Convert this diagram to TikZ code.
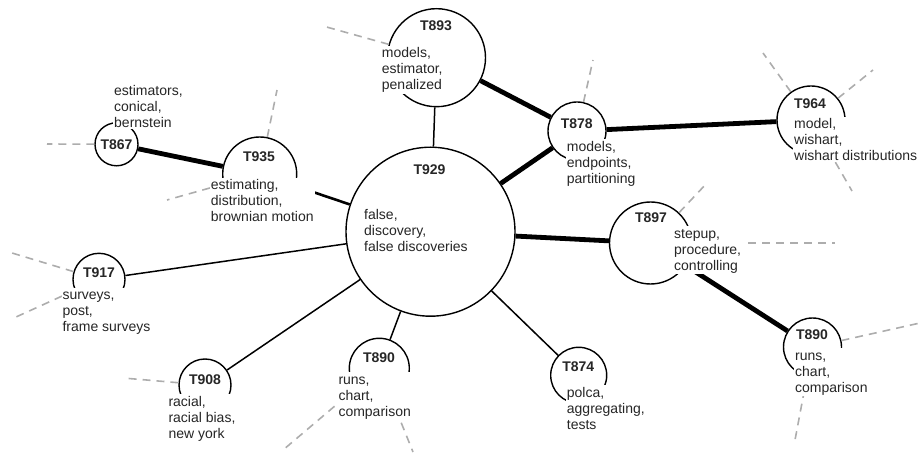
\documentclass[tikz,border=0pt]{standalone}
\usepackage{fontspec}
\setmainfont{Liberation Sans}
\begin{document}
\begin{tikzpicture}[x=1pt,y=-1pt,
  every node/.style={font=\fontsize{14}{16}\selectfont, text=black!85},
  topic/.style={circle, draw=black, line width=1.4pt, inner sep=0pt},
  ttl/.style={font=\fontsize{14}{16}\selectfont\bfseries, inner sep=0pt, anchor=base},
  words/.style={align=left, anchor=north west, fill=white, inner sep=1pt},
  thin edge/.style={draw=black, line width=1.5pt},
  mid edge/.style={draw=black, line width=2.6pt},
  thick edge/.style={draw=black, line width=4.8pt},
  dashline/.style={draw=black!32, line width=1.6pt, dash pattern=on 8pt off 6pt}
]
\useasboundingbox (0,0) rectangle (923,454);
\newcommand{\tp}{\rule{0pt}{11pt}}

% circles
\node[topic, minimum size=169pt] (t929) at (430.5,231.7) {};
\node[topic, minimum size=98pt]  (t893) at (436.5,57.7) {};
\node[topic, minimum size=58pt]  (t878) at (577,131) {};
\node[topic, minimum size=68pt]  (t964) at (811,120) {};
\node[topic, minimum size=74pt]  (t935) at (259.7,174) {};
\node[topic, minimum size=43pt]  (t867) at (116.5,144.3) {};
\node[topic, minimum size=82pt]  (t897) at (650.5,243) {};
\node[topic, minimum size=52pt]  (t917) at (99,279.3) {};
\node[topic, minimum size=52pt]  (t908) at (205,385) {};
\node[topic, minimum size=60pt]  (t890b) at (379.3,368.3) {};
\node[topic, minimum size=56pt]  (t874) at (578.7,375.3) {};
\node[topic, minimum size=58pt]  (t890r) at (812.5,347) {};

% free ends of dashed connectors
\coordinate (d867) at (47,144);
\coordinate (d935a) at (277,90);
\coordinate (d935b) at (167,200);
\coordinate (d893) at (323,26);
\coordinate (d878) at (593,60);
\coordinate (d964a) at (763,53);
\coordinate (d964b) at (873,70);
\coordinate (d964c) at (852,191);
\coordinate (d897a) at (707,183);
\coordinate (d897b) at (835,243);
\coordinate (d890ra) at (920,323);
\coordinate (d890rb) at (795,440);
\coordinate (d917a) at (12,253);
\coordinate (d917b) at (16,317);
\coordinate (d908) at (123,378);
\coordinate (d890ba) at (283,450);
\coordinate (d890bb) at (413,452);

% dashed connectors
\draw[dashline] (t867) -- (d867);
\draw[dashline] (t935) -- (d935a);
\draw[dashline] (t935) -- (d935b);
\draw[dashline] (t893) -- (d893);
\draw[dashline] (t878) -- (d878);
\draw[dashline] (t964) -- (d964a);
\draw[dashline] (t964) -- (d964b);
\draw[dashline] (t964) -- (d964c);
\draw[dashline] (t897) -- (d897a);
\draw[dashline] (t897) -- (d897b);
\draw[dashline] (t890r) -- (d890ra);
\draw[dashline] (t890r) -- (d890rb);
\draw[dashline] (t917) -- (d917a);
\draw[dashline] (t917) -- (d917b);
\draw[dashline] (t908) -- (d908);
\draw[dashline] (t890b) -- (d890ba);
\draw[dashline] (t890b) -- (d890bb);

% edges
\draw[thick edge] (t867) -- (t935);
\draw[thick edge] (t893) -- (t878);
\draw[thick edge] (t929) -- (t878);
\draw[thick edge] (t878) -- (t964);
\draw[thick edge] (t929) -- (t897);
\draw[thick edge] (t897) -- (t890r);
\draw[mid edge] (t935) -- (t929);
\draw[thin edge] (t929) -- (t893);
\draw[thin edge] (t929) -- (t917);
\draw[thin edge] (t929) -- (t908);
\draw[thin edge] (t929) -- (t890b);
\draw[thin edge] (t929) -- (t874);

% titles
\node[ttl] (t929t) at (429.5,175) {T929};
\node[ttl] (t893t) at (436,31) {T893};
\node[ttl] (t878t) at (576.7,129) {T878};
\node[ttl] (t964t) at (810,109) {T964};
\node[ttl] (t935t) at (259,161.7) {T935};
\node[ttl] (t867t) at (116.5,149.3) {T867};
\node[ttl] (t897t) at (651,223) {T897};
\node[ttl] (t917t) at (99,277.7) {T917};
\node[ttl] (t908t) at (205,384.3) {T908};
\node[ttl] (t890bt) at (379,362.3) {T890};
\node[ttl] (t874t) at (578.3,371.7) {T874};
\node[ttl] (t890rt) at (812,339.3) {T890};

% word lists
\node[words] (t929w) at (363,207.5) {\tp false,\\discovery,\\false discoveries};
\node[words] (t893w) at (380.7,45.8) {\tp models,\\estimator,\\penalized};
\node[words] (t878w) at (565.7,139.2) {\tp models,\\endpoints,\\partitioning};
\node[words] (t964w) at (793,116.5) {\tp model,\\wishart,\\wishart distributions};
\node[words] (t935w) at (209.7,177.5) {\tp estimating,\\distribution,\\brownian motion};
\node[words] (t867w) at (113,83.2) {\tp estimators,\\conical,\\bernstein};
\node[words] (t897w) at (673,226) {\tp stepup,\\procedure,\\controlling};
\node[words] (t917w) at (61.3,287.5) {\tp surveys,\\post,\\frame surveys};
\node[words] (t908w) at (167.3,394.2) {\tp racial,\\racial bias,\\new york};
\node[words] (t890bw) at (337.3,371.8) {\tp runs,\\chart,\\comparison};
\node[words] (t874w) at (565.7,384.8) {\tp polca,\\aggregating,\\tests};
\node[words] (t890rw) at (794,348.2) {\tp runs,\\chart,\\comparison};
\end{tikzpicture}
\end{document}
